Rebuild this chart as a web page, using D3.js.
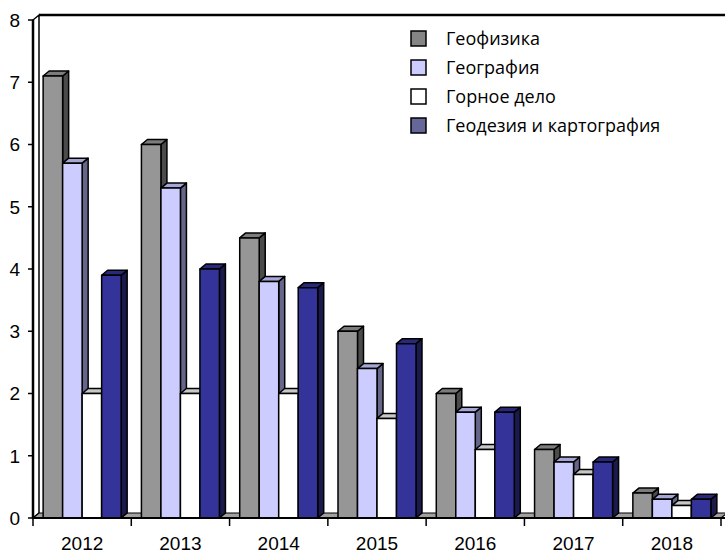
<!DOCTYPE html>
<html>
<head>
<meta charset="utf-8">
<script src="https://cdn.jsdelivr.net/npm/d3@7"></script>
<style>
  body { margin: 0; background: #fff; }
  svg { display: block; }
</style>
</head>
<body>
<svg id="chart" width="725" height="555"></svg>
<script>
// data
const years = ['2012', '2013', '2014', '2015', '2016', '2017', '2018'];
const seriesNames = ['Геофизика', 'География', 'Горное дело', 'Геодезия и картография'];
const geofizika = [7.1, 6.0, 4.5, 3.0, 2.0, 1.1, 0.4];
const geografiya = [5.7, 5.3, 3.8, 2.4, 1.7, 0.9, 0.3];
const gornoe = [2.0, 2.0, 2.0, 1.6, 1.1, 0.7, 0.2];
const geodeziya = [3.9, 4.0, 3.7, 2.8, 1.7, 0.9, 0.3];
const yTicks = [0, 1, 2, 3, 4, 5, 6, 7, 8];

const seriesValues = [geofizika, geografiya, gornoe, geodeziya];

// colours: front / top / side faces, plus legend swatch
const faces = [
  { front: '#969696', top: '#7c7c7c', side: '#4b4b4b', legend: '#858585' },
  { front: '#ccccff', top: '#a6a6d6', side: '#66668a', legend: '#ccccff' },
  { front: '#ffffff', top: '#c8c8c8', side: '#808080', legend: '#ffffff' },
  { front: '#333399', top: '#29297a', side: '#1a1a4d', legend: '#666699' }
];

const axisFont = '"Liberation Sans", Arial, sans-serif';
const legendFont = '"Open Sans", "Noto Sans", sans-serif';

const svg = d3.select('#chart');

const x0 = 33, x1 = 721, yBase = 518, yMax = 20;
const dx = 6, dy = -5;   // 3d depth offset

const y = d3.scaleLinear().domain([0, 8]).range([yBase, yMax]);
const xCat = d3.scaleBand().domain(years).range([x0, x1]).paddingInner(0).paddingOuter(0);
const xSer = d3.scaleBand().domain(d3.range(seriesNames.length)).range([0, xCat.bandwidth()])
  .paddingInner(0).paddingOuter(0.52);

const poly = pts => pts.map(p => p.join(',')).join(' ');

// walls
const wall = svg.append('g');
wall.append('polygon')
  .attr('points', poly([[x0, yBase], [x0, yMax], [x0 + dx, yMax + dy], [x0 + dx, yBase + dy]]))
  .attr('fill', '#fff').attr('stroke', '#000').attr('stroke-width', 1.5);
wall.append('line')
  .attr('x1', x0 + dx).attr('x2', x1 + dx + 10)
  .attr('y1', yMax + dy).attr('y2', yMax + dy)
  .attr('stroke', '#000').attr('stroke-width', 2.5);

// floor
wall.append('polygon')
  .attr('points', poly([[x0, yBase], [x1, yBase], [x1 + dx, yBase + dy], [x0 + dx, yBase + dy]]))
  .attr('fill', '#a0a0a0').attr('stroke', '#000').attr('stroke-width', 1.2);

// bars, drawn left to right so later ones cover the side faces behind them
const bars = svg.append('g');
years.forEach((yr, ci) => {
  seriesValues.forEach((vals, si) => {
    const v = vals[ci];
    const left = xCat(yr) + xSer(si);
    const right = left + xSer.bandwidth();
    const top = y(v);
    const f = faces[si];
    const g = bars.append('g').attr('stroke', '#000').attr('stroke-width', 1.5).attr('stroke-linejoin', 'round');
    g.append('polygon')
      .attr('points', poly([[right, yBase], [right, top], [right + dx, top + dy], [right + dx, yBase + dy]]))
      .attr('fill', f.side);
    g.append('polygon')
      .attr('points', poly([[left, top], [right, top], [right + dx, top + dy], [left + dx, top + dy]]))
      .attr('fill', f.top);
    g.append('rect')
      .attr('x', left).attr('y', top)
      .attr('width', right - left).attr('height', yBase - top)
      .attr('fill', f.front);
  });
});

// front axes
const axes = svg.append('g').attr('stroke', '#000');
axes.append('line').attr('x1', x0).attr('x2', x0).attr('y1', yMax).attr('y2', yBase).attr('stroke-width', 2.5);
axes.append('line').attr('x1', x0).attr('x2', 725).attr('y1', yBase).attr('y2', yBase).attr('stroke-width', 2);

yTicks.forEach(t => {
  axes.append('line').attr('x1', x0 - 5).attr('x2', x0).attr('y1', y(t)).attr('y2', y(t)).attr('stroke-width', 1.5);
  svg.append('text')
    .attr('font-family', axisFont).attr('font-size', 19)
    .attr('x', 20).attr('y', y(t)).attr('dy', '0.36em')
    .attr('text-anchor', 'end').text(t);
});

years.concat(['end']).forEach((yr, i) => {
  const xt = x0 + i * xCat.step();
  axes.append('line').attr('x1', xt).attr('x2', xt).attr('y1', yBase).attr('y2', yBase + 8).attr('stroke-width', 1.5);
});
years.forEach(yr => {
  svg.append('text')
    .attr('font-family', axisFont).attr('font-size', 19)
    .attr('x', xCat(yr) + xCat.bandwidth() / 2).attr('y', 550)
    .attr('text-anchor', 'middle').text(yr);
});

// legend
const legend = svg.append('g').attr('transform', 'translate(411,31)');
seriesNames.forEach((name, i) => {
  const row = legend.append('g').attr('transform', `translate(0,${i * 29})`);
  row.append('rect').attr('x', 0).attr('y', 0).attr('width', 15).attr('height', 15)
    .attr('fill', faces[i].legend).attr('stroke', '#000').attr('stroke-width', 1.5);
  row.append('text')
    .attr('font-family', legendFont).attr('font-size', 18)
    .attr('x', 35).attr('y', 7.5).attr('dy', '0.35em').text(name);
});
</script>
</body>
</html>
